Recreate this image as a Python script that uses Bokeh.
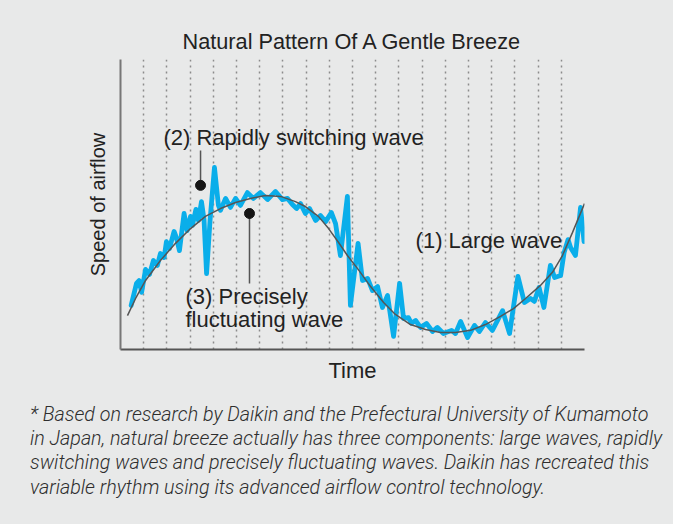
from bokeh.plotting import figure
from bokeh.models import Range1d, FixedTicker, ColumnDataSource, Div
from bokeh.layouts import column
from bokeh.embed import file_html
from bokeh.resources import INLINE
from bokeh.core.properties import value

# ---- data (time in grid units 0..20, speed 0..100) ----
large_t = [0.30, 0.65, 1.08, 1.72, 2.37, 3.02, 3.66, 4.31, 4.96, 5.60, 6.25, 6.90,
           7.54, 7.97, 8.53, 8.97, 9.40, 9.78, 10.22, 10.78, 11.34, 11.85, 12.50,
           13.15, 13.79, 14.44, 15.09, 15.73, 16.38, 16.94, 17.46, 18.10, 18.62,
           19.05, 19.48, 20.0]
large_v = [11.7, 17.6, 23.8, 30.7, 36.6, 41.7, 45.9, 48.6, 50.7, 52.1, 53.1, 52.8,
           51.0, 49.3, 45.9, 41.7, 36.9, 32.4, 27.9, 21.7, 16.2, 12.1, 8.6,
           6.9, 5.9, 5.9, 6.6, 8.6, 11.4, 14.1, 17.6, 22.1, 26.6,
           32.4, 40.3, 50.3]

breeze_t = [0.46, 0.69, 0.80, 0.91, 1.08, 1.25, 1.42, 1.59, 1.72, 1.88, 1.98, 2.11,
            2.31, 2.41, 2.54, 2.74, 2.87, 3.02, 3.10, 3.25, 3.36, 3.49, 3.60, 3.71,
            3.86, 4.05, 4.22, 4.31, 4.53, 4.74, 4.96, 5.17, 5.47, 5.73, 6.03, 6.34,
            6.68, 6.98, 7.20, 7.41, 7.59, 7.76, 7.97, 8.15, 8.41, 8.62, 8.84, 9.09,
            9.27, 9.48, 9.78, 9.91, 10.24, 10.43, 10.65, 10.86, 11.08, 11.29, 11.51,
            11.77, 12.03, 12.20, 12.41, 12.54, 12.72, 12.93, 13.19, 13.45, 13.66,
            13.92, 14.27, 14.44, 14.66, 14.96, 15.26, 15.47, 15.73, 16.03, 16.47,
            16.77, 17.13, 17.41, 17.67, 17.84, 18.04, 18.25, 18.53, 18.71, 18.97,
            19.12, 19.29, 19.40, 19.61, 19.83, 19.98]
breeze_v = [15.2, 22.8, 23.8, 19.7, 27.6, 25.9, 30.7, 29.0, 33.1, 31.7, 37.2, 34.8,
            40.7, 38.6, 34.1, 46.9, 41.0, 45.9, 42.8, 48.3, 44.5, 51.0, 44.8, 26.2,
            44.5, 62.8, 49.7, 48.0, 52.1, 49.0, 52.1, 49.7, 54.1, 52.1, 54.1, 51.7,
            54.5, 51.7, 52.1, 50.0, 48.6, 50.3, 46.9, 48.6, 44.5, 46.2, 44.1, 47.2,
            43.4, 32.4, 52.8, 15.2, 36.6, 23.8, 24.5, 20.3, 21.7, 14.5, 18.6,
            4.5, 22.8, 10.7, 11.0, 9.0, 10.0, 7.6, 9.0, 6.2, 7.6,
            5.5, 6.6, 5.5, 9.7, 4.1, 8.3, 6.2, 9.3, 6.6, 13.4,
            5.5, 25.2, 16.2, 17.6, 16.6, 21.4, 14.5, 29.0, 24.8, 25.5,
            33.4, 37.9, 35.2, 32.4, 49.0, 37.2]

grid_ticks = list(range(1, 21))

# annotation anchors (dot position and end of leader line)
marker_t = [3.45, 5.56]
marker_v = [56.6, 46.9]
leader_end_v = [68.6, 22.8]

ann_text = ["(2) Rapidly switching wave", "(1) Large wave", "(3) Precisely", "fluctuating wave"]
ann_t = [1.85, 12.72, 2.80, 2.80]
ann_v = [73.1, 37.6, 18.3, 10.2]

title_text = "Natural Pattern Of A Gentle Breeze"
x_label = "Time"
y_label = "Speed of airflow"
footnote = [
    "* Based on research by Daikin and the Prefectural University of Kumamoto",
    "in Japan, natural breeze actually has three components: large waves, rapidly",
    "switching waves and precisely fluctuating waves. Daikin has recreated this",
    "variable rhythm using its advanced airflow control technology.",
]

BG = "#e8e9e9"
FONT = "Liberation Sans"
INK = "#222222"

p = figure(width=673, height=395, x_range=Range1d(0, 20), y_range=Range1d(0, 100),
           output_backend="svg", toolbar_location=None,
           min_border_left=120, min_border_right=89, min_border_top=59, min_border_bottom=46)
p.background_fill_color = BG
p.border_fill_color = BG
p.outline_line_color = None
p.margin = 0

p.title.text = title_text
p.title.text_font = FONT
p.title.text_font_size = "21.7px"
p.title.text_font_style = "normal"
p.title.text_color = INK
p.title.align = "center"
p.title.standoff = 11

for ax in (p.xaxis[0], p.yaxis[0]):
    ax.ticker = FixedTicker(ticks=[])
    ax.major_tick_line_color = None
    ax.minor_tick_line_color = None
    ax.major_tick_out = 0
    ax.major_tick_in = 0
    ax.major_label_standoff = 0
    ax.major_label_text_font_size = "0px"
    ax.axis_line_width = 2
    ax.axis_label_text_font = FONT
    ax.axis_label_text_font_style = "normal"
    ax.axis_label_text_color = INK
p.xaxis.axis_line_color = "#555555"
p.yaxis.axis_line_color = "#777777"
p.xaxis.axis_label = x_label
p.xaxis.axis_label_text_font_size = "22px"
p.xaxis.axis_label_standoff = 8
p.yaxis.axis_label = y_label
p.yaxis.axis_label_text_font_size = "20px"
p.yaxis.axis_label_standoff = 12

p.ygrid.grid_line_color = None
p.xgrid.ticker = FixedTicker(ticks=grid_ticks)
p.xgrid.grid_line_color = "#8c8c8c"
p.xgrid.grid_line_dash = "2 4"
p.xgrid.grid_line_width = 1.5

p.line(breeze_t, breeze_v, line_color="#0aaeea", line_width=4.8, line_join="round", line_cap="round")
p.line(large_t, large_v, line_color="#555555", line_width=1.5)

p.segment(x0=marker_t, y0=marker_v, x1=marker_t, y1=leader_end_v, line_color="#555555", line_width=1.5)
p.scatter(marker_t, marker_v, size=10, color="#151515")

src = ColumnDataSource(dict(x=ann_t, y=ann_v, t=ann_text))
p.text(x="x", y="y", text="t", source=src, text_font=value(FONT), text_font_size="22px",
       text_color=INK, text_align="left", text_baseline="middle")

note = Div(text="<br>".join(footnote), width=673, height=129, margin=0,
           styles={"background-color": BG, "font-family": "Roboto", "font-style": "italic",
                   "font-weight": "300", "font-size": "19.7px", "line-height": "24.4px",
                   "color": "#2e2e2e", "padding": "7.5px 0px 0px 30px", "box-sizing": "border-box",
                   "white-space": "nowrap", "overflow": "hidden"})

layout = column(p, note, spacing=0, margin=0, styles={"background-color": BG})

open("out.html", "w").write(file_html(layout, INLINE))
